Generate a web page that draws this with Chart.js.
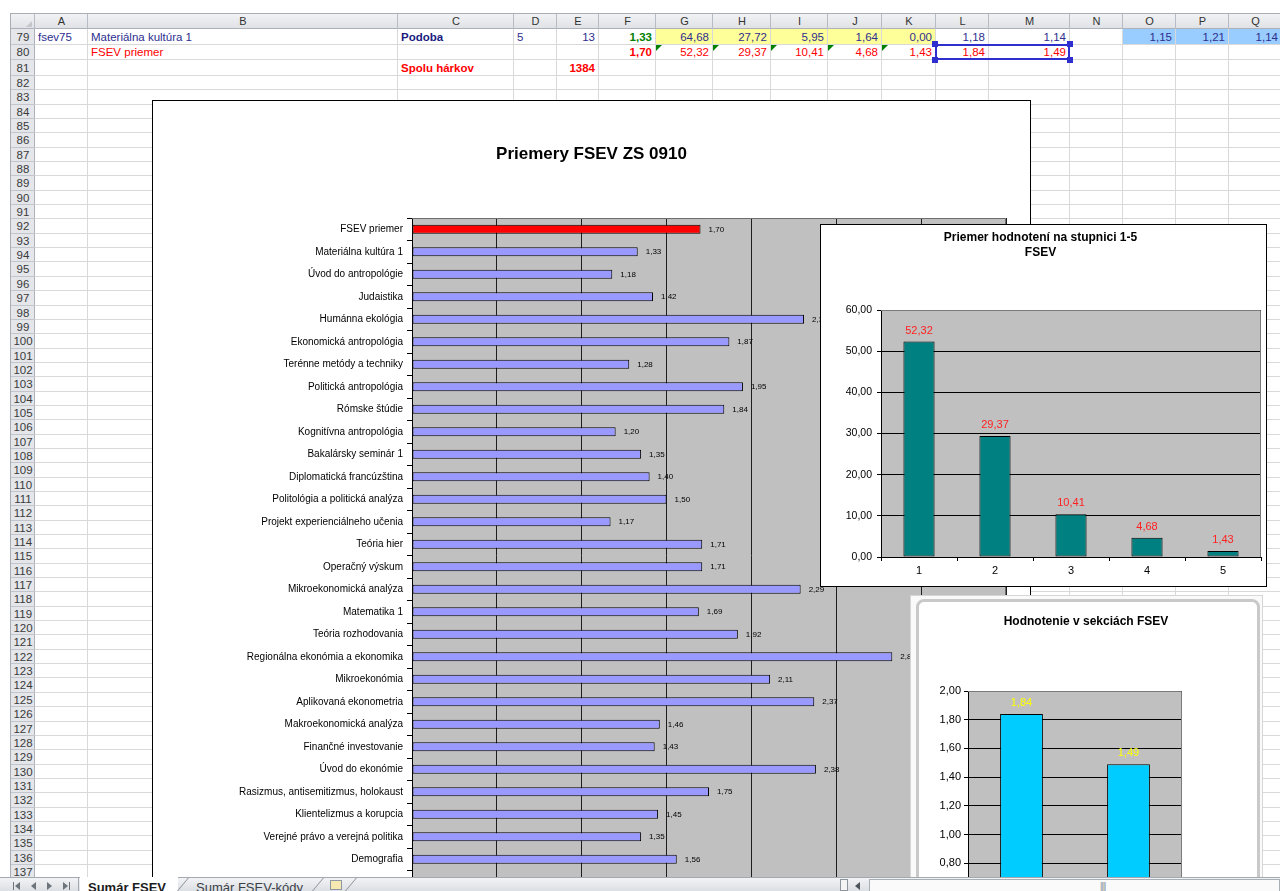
<!DOCTYPE html>
<html lang="sk">
<head>
<meta charset="utf-8">
<title>Priemery FSEV ZS 0910</title>
<script src="https://cdn.jsdelivr.net/npm/chart.js@4.4.0/dist/chart.umd.min.js"></script>
<style>
  html, body { margin: 0; padding: 0; }
  body { width: 1280px; height: 891px; overflow: hidden; position: relative; background: #fff;
         font-family: "Liberation Sans", Arial, sans-serif; }
  #sheet { position: absolute; left: 0; top: 0; width: 1280px; height: 891px; }
  .chartBox { position: absolute; background: #fff; box-sizing: border-box; overflow: hidden; }
  .chartBox canvas { position: absolute; left: 0; top: 0; }
  #mainBox { left: 152px; top: 100px; width: 879px; height: 800px; border: 1px solid #000; z-index: 5; }
  #gradeBox { left: 820px; top: 224px; width: 447px; height: 363px; border: 1px solid #000; z-index: 6; }
  #sectionFrame { position: absolute; left: 910px; top: 595px; width: 353px; height: 320px; box-sizing: border-box;
                  border: 1px solid #D6D6D6; background: #FAFAFA; z-index: 7; }
  #sectionBox { left: 916px; top: 599px; width: 344px; height: 400px; border: 3px solid #C9C9C9;
                border-radius: 8px; z-index: 8; }
  #tabBar { position: absolute; left: 0; top: 877px; width: 1280px; height: 14px; z-index: 20;
            background: linear-gradient(#F2F3F5, #DCDFE3); border-top: 1px solid #A3A9B1; box-sizing: border-box; }
</style>
</head>
<body>
<div id="sheet"></div>

<div id="mainBox" class="chartBox"><canvas id="mainChart" width="877" height="816"></canvas></div>
<div id="gradeBox" class="chartBox"><canvas id="gradeChart" width="445" height="361"></canvas></div>
<div id="sectionFrame"></div>
<div id="sectionBox" class="chartBox"><canvas id="sectionChart" width="338" height="400"></canvas></div>
<div id="tabBar"></div>

<script>
/* ---------- data ---------- */
const courseNames = [
  "FSEV priemer", "Materiálna kultúra 1", "Úvod do antropológie", "Judaistika",
  "Humánna ekológia", "Ekonomická antropológia", "Terénne metódy a techniky",
  "Politická antropológia", "Rómske štúdie", "Kognitívna antropológia",
  "Bakalársky seminár 1", "Diplomatická francúzština", "Politológia a politická analýza",
  "Projekt experienciálneho učenia", "Teória hier", "Operačný výskum",
  "Mikroekonomická analýza", "Matematika 1", "Teória rozhodovania",
  "Regionálna ekonómia a ekonomika", "Mikroekonómia", "Aplikovaná ekonometria",
  "Makroekonomická analýza", "Finančné investovanie", "Úvod do ekonómie",
  "Rasizmus, antisemitizmus, holokaust", "Klientelizmus a korupcia",
  "Verejné právo a verejná politika", "Demografia", "Európske štúdie"
];
const courseAverages = [
  1.70, 1.33, 1.18, 1.42, 2.31, 1.87, 1.28, 1.95, 1.84, 1.20,
  1.35, 1.40, 1.50, 1.17, 1.71, 1.71, 2.29, 1.69, 1.92, 2.83,
  2.11, 2.37, 1.46, 1.43, 2.38, 1.75, 1.45, 1.35, 1.56, 2.95
];

const gradeLabels = ["1", "2", "3", "4", "5"];
const gradeShares = [52.32, 29.37, 10.41, 4.68, 1.43];

const sectionLabels = ["1", "2"];
const sectionAverages = [1.84, 1.49];

/* ---------- hárok (mriežka) ---------- */
const FONT = '"Liberation Sans", Arial, sans-serif';
const sheet = document.getElementById("sheet");
const colNames = ["A","B","C","D","E","F","G","H","I","J","K","L","M","N","O","P","Q"];
const colEdges = [35, 88, 398, 514, 557, 599, 656, 713, 771, 828, 882, 936, 989, 1070, 1123, 1176, 1229, 1282];
const firstRow = 79;
const rowTops = [];
for (let i = 0; i <= 59; i++) {
  rowTops.push(i <= 3 ? Math.round(29 + i * 15.67) : Math.round(76 + (i - 3) * 14.345));
}

function box(x, y, w, h, css) {
  const d = document.createElement("div");
  d.style.cssText = `position:absolute;left:${x}px;top:${y}px;width:${w}px;height:${h}px;${css || ""}`;
  sheet.appendChild(d);
  return d;
}
function colX(name) { return colEdges[colNames.indexOf(name)]; }
function colW(name) { const i = colNames.indexOf(name); return colEdges[i + 1] - colEdges[i]; }
function rowY(r) { return rowTops[r - firstRow]; }
function rowH(r) { return rowTops[r - firstRow + 1] - rowTops[r - firstRow]; }

// čiary mriežky
for (let i = 1; i < rowTops.length; i++) box(35, rowTops[i] - 1, 1245, 1, "background:#D9D9D9");
for (let i = 1; i < colEdges.length; i++) box(colEdges[i] - 1, 29, 1, 848, "background:#D9D9D9");

// hlavička stĺpcov
box(10, 13, 1270, 16, "background:linear-gradient(#F1F2F4,#E0E2E6);border-top:1px solid #A9AEB6;border-bottom:1px solid #ADB2BA;box-sizing:border-box");
box(10, 13, 1, 864, "background:#A9AEB6");
colNames.forEach((c, i) => {
  box(colEdges[i] - 1, 14, 1, 15, "background:#B7BCC4");
  const t = box(colEdges[i], 13, colEdges[i + 1] - colEdges[i], 16,
    `font:11px ${FONT};color:#333;text-align:center;line-height:16px`);
  t.textContent = c;
});
// hlavička riadkov
box(11, 29, 24, 848, "background:#E4E6EA;border-right:1px solid #ADB2BA;box-sizing:border-box");
for (let i = 0; i < 59; i++) {
  box(11, rowTops[i + 1] - 1, 24, 1, "background:#C2C6CC");
  const t = box(11, rowTops[i], 24, rowTops[i + 1] - rowTops[i],
    `font:11.5px ${FONT};color:#3A3A3A;text-align:center;line-height:${rowTops[i + 1] - rowTops[i]}px`);
  t.textContent = firstRow + i;
}
box(26, 21, 0, 0, "border-left:6px solid transparent;border-bottom:6px solid #C3C6CB");

// obsah buniek
const NAVY = "#2E2E8F";
const cells = [
  { c: "A", r: 79, t: "fsev75", color: NAVY },
  { c: "B", r: 79, t: "Materiálna kultúra 1", color: NAVY },
  { c: "C", r: 79, t: "Podoba", color: "#1A1A80", bold: true },
  { c: "D", r: 79, t: "5", color: NAVY },
  { c: "E", r: 79, t: "13", color: NAVY, right: true },
  { c: "F", r: 79, t: "1,33", color: "#008000", bold: true, right: true },
  { c: "G", r: 79, t: "64,68", color: NAVY, right: true, bg: "#FFFF99" },
  { c: "H", r: 79, t: "27,72", color: NAVY, right: true, bg: "#FFFF99" },
  { c: "I", r: 79, t: "5,95", color: NAVY, right: true, bg: "#FFFF99" },
  { c: "J", r: 79, t: "1,64", color: NAVY, right: true, bg: "#FFFF99" },
  { c: "K", r: 79, t: "0,00", color: NAVY, right: true, bg: "#FFFF99" },
  { c: "L", r: 79, t: "1,18", color: NAVY, right: true },
  { c: "M", r: 79, t: "1,14", color: NAVY, right: true },
  { c: "O", r: 79, t: "1,15", color: NAVY, right: true, bg: "#99CCFF" },
  { c: "P", r: 79, t: "1,21", color: NAVY, right: true, bg: "#99CCFF" },
  { c: "Q", r: 79, t: "1,14", color: NAVY, right: true, bg: "#99CCFF" },
  { c: "B", r: 80, t: "FSEV priemer", color: "#FF0000" },
  { c: "F", r: 80, t: "1,70", color: "#FF0000", bold: true, right: true },
  { c: "G", r: 80, t: "52,32", color: "#FF0000", right: true, flag: true },
  { c: "H", r: 80, t: "29,37", color: "#FF0000", right: true, flag: true },
  { c: "I", r: 80, t: "10,41", color: "#FF0000", right: true, flag: true },
  { c: "J", r: 80, t: "4,68", color: "#FF0000", right: true, flag: true },
  { c: "K", r: 80, t: "1,43", color: "#FF0000", right: true, flag: true },
  { c: "L", r: 80, t: "1,84", color: "#FF0000", right: true },
  { c: "M", r: 80, t: "1,49", color: "#FF0000", right: true },
  { c: "C", r: 81, t: "Spolu hárkov", color: "#FF0000", bold: true },
  { c: "E", r: 81, t: "1384", color: "#FF0000", bold: true, right: true }
];
cells.forEach(cell => {
  const x = colX(cell.c), y = rowY(cell.r), w = colW(cell.c), h = rowH(cell.r);
  if (cell.bg) box(x, y, w - 1, h - 1, `background:${cell.bg}`);
  const t = box(x + 3, y, w - 7, h,
    `font:${cell.bold ? "bold " : ""}11.5px ${FONT};color:${cell.color};line-height:${h}px;white-space:nowrap;` +
    `text-align:${cell.right ? "right" : "left"}`);
  t.textContent = cell.t;
  if (cell.flag) box(x, y, 0, 0, "border-top:6px solid #008000;border-right:6px solid transparent");
});
// výber L80:M80
{
  const x = colX("L") - 1, y = rowY(80) - 1, w = colEdges[13] - colX("L") + 1, h = rowH(80) + 1;
  box(x, y, w, h, "border:2px solid #2F2FD0;box-sizing:border-box");
  [[x, y], [x + w, y], [x, y + h], [x + w, y + h]].forEach(([px, py]) =>
    box(px - 3, py - 3, 6, 6, "background:#2F2FD0"));
}

/* ---------- spodná lišta s hárkami ---------- */
const tabBar = document.getElementById("tabBar");
function barEl(x, y, w, h, css, txt) {
  const d = document.createElement("div");
  d.style.cssText = `position:absolute;left:${x}px;top:${y}px;width:${w}px;height:${h}px;${css || ""}`;
  if (txt) d.textContent = txt;
  tabBar.appendChild(d);
  return d;
}
barEl(13, 4, 1, 8, "background:#6E747C");
barEl(15, 4, 0, 0, "border-top:4px solid transparent;border-bottom:4px solid transparent;border-right:5px solid #6E747C");
barEl(31, 4, 0, 0, "border-top:4px solid transparent;border-bottom:4px solid transparent;border-right:5px solid #6E747C");
barEl(47, 4, 0, 0, "border-top:4px solid transparent;border-bottom:4px solid transparent;border-left:5px solid #6E747C");
barEl(63, 4, 0, 0, "border-top:4px solid transparent;border-bottom:4px solid transparent;border-left:5px solid #6E747C");
barEl(69, 4, 1, 8, "background:#6E747C");
barEl(78, 0, 1, 14, "background:#A3A9B1");
barEl(80, -1, 98, 15, "background:#fff", "");
barEl(88, 2, 90, 14, `font:bold 13px ${FONT};color:#1B1B1B;white-space:nowrap`, "Sumár FSEV");
barEl(182, 0, 1, 14, "background:#8A9099;transform:skewX(-40deg)");
barEl(196, 2, 120, 14, `font:13px ${FONT};color:#3C4148;white-space:nowrap`, "Sumár FSEV-kódy");
barEl(317, 0, 1, 14, "background:#8A9099;transform:skewX(-40deg)");
barEl(330, 2, 12, 10, "border:1px solid #9099A3;background:#F6E8B0;box-sizing:border-box");
barEl(350, 0, 1, 14, "background:#8A9099;transform:skewX(-40deg)");
barEl(840, 1, 8, 12, "border:1px solid #8F959D;background:#F4F4F4;box-sizing:border-box");
barEl(855, 4, 0, 0, "border-top:4px solid transparent;border-bottom:4px solid transparent;border-right:5px solid #4E545C");
barEl(869, 1, 411, 13, "background:#FAFAFB;border:1px solid #A8AEB6;box-sizing:border-box");
barEl(1100, 3, 12, 10, `font:9px ${FONT};color:#8A9099;letter-spacing:-1px`, "||||");

/* ---------- pluginy ---------- */
function fmt(v) { return v.toFixed(2).replace(".", ","); }

// nadpis vycentrovaný na celú plochu grafu (ako v Exceli)
const boxTitle = {
  id: "boxTitle",
  afterDraw(chart, args, opts) {
    const ctx = chart.ctx;
    ctx.save();
    ctx.font = opts.font;
    ctx.fillStyle = "#000";
    ctx.textAlign = "center";
    ctx.textBaseline = "middle";
    opts.lines.forEach((t, i) => ctx.fillText(t, chart.width / 2 + (opts.dx || 0), opts.y + i * opts.lineHeight));
    ctx.restore();
  }
};

const plotFrame = {
  id: "plotFrame",
  beforeDraw(chart, args, opts) {
    const { ctx, chartArea: a } = chart;
    ctx.save();
    ctx.fillStyle = opts.fill;
    ctx.fillRect(a.left, a.top, a.right - a.left, a.bottom - a.top);
    ctx.restore();
  },
  beforeDatasetsDraw(chart, args, opts) {
    const { ctx, chartArea: a } = chart;
    ctx.save();
    ctx.strokeStyle = opts.edge;
    ctx.lineWidth = 1;
    ctx.beginPath();
    ctx.moveTo(a.left, a.top + 0.5);
    ctx.lineTo(a.right - 0.5, a.top + 0.5);
    ctx.lineTo(a.right - 0.5, a.bottom);
    ctx.stroke();
    ctx.restore();
  }
};

const valueLabels = {
  id: "valueLabels",
  afterDatasetsDraw(chart, args, opts) {
    const ctx = chart.ctx;
    const horizontal = chart.options.indexAxis === "y";
    ctx.save();
    ctx.font = opts.font;
    ctx.fillStyle = opts.color;
    ctx.textBaseline = "middle";
    chart.data.datasets.forEach((ds, di) => {
      chart.getDatasetMeta(di).data.forEach((bar, i) => {
        const txt = fmt(ds.data[i]);
        if (horizontal) {
          ctx.textAlign = "left";
          ctx.fillText(txt, bar.x + opts.gap, bar.y + 0.5);
        } else {
          ctx.textAlign = "center";
          ctx.fillText(txt, bar.x, bar.y - opts.gap);
        }
      });
    });
    ctx.restore();
  }
};

Chart.defaults.font.family = FONT;
Chart.defaults.color = "#000";

/* ---------- hlavný graf ---------- */
new Chart(document.getElementById("mainChart"), {
  type: "bar",
  data: {
    labels: courseNames,
    datasets: [{
      data: courseAverages,
      backgroundColor: courseNames.map((n, i) => i === 0 ? "#FF0000" : "#9999FF"),
      borderColor: "#000",
      borderWidth: 1,
      borderSkipped: false,
      barPercentage: 0.4,
      categoryPercentage: 1
    }]
  },
  plugins: [plotFrame, valueLabels, boxTitle],
  options: {
    indexAxis: "y",
    responsive: false,
    animation: false,
    devicePixelRatio: 1,
    layout: { padding: { left: 0, right: 24, top: 117, bottom: 0 } },
    plugins: {
      legend: { display: false },
      tooltip: { enabled: false },
      boxTitle: { lines: ["Priemery FSEV ZS 0910"], font: `bold 17px ${FONT}`, y: 53, lineHeight: 20 },
      plotFrame: { fill: "#C0C0C0", edge: "#6E6E6E" },
      valueLabels: { font: `8px ${FONT}`, color: "#000", gap: 8 }
    },
    scales: {
      x: {
        min: 0, max: 3.5,
        ticks: { stepSize: 0.5, callback: v => fmt(v), font: { size: 10 }, color: "#000" },
        grid: { color: "#1E1E1E", lineWidth: 1, tickLength: 4 },
        border: { color: "#000" },
        afterFit(s) { s.height = 24; }
      },
      y: {
        ticks: { autoSkip: false, font: { size: 10 }, color: "#000", padding: 4 },
        grid: { drawOnChartArea: false, tickLength: 5, color: "#000" },
        border: { color: "#000" },
        afterFit(s) { s.width = 259; }
      }
    }
  }
});

/* ---------- priemer hodnotení 1-5 ---------- */
new Chart(document.getElementById("gradeChart"), {
  type: "bar",
  data: {
    labels: gradeLabels,
    datasets: [{
      data: gradeShares,
      backgroundColor: "#008080",
      borderColor: "#000",
      borderWidth: 1,
      borderSkipped: false,
      barPercentage: 0.41,
      categoryPercentage: 1
    }]
  },
  plugins: [plotFrame, valueLabels, boxTitle],
  options: {
    responsive: false,
    animation: false,
    devicePixelRatio: 1,
    layout: { padding: { left: 0, right: 5, top: 85, bottom: 0 } },
    plugins: {
      legend: { display: false },
      tooltip: { enabled: false },
      boxTitle: { lines: ["Priemer hodnotení na stupnici 1-5", "FSEV"], font: `bold 12px ${FONT}`, y: 13, lineHeight: 15, dx: -3 },
      plotFrame: { fill: "#C0C0C0", edge: "#7A7A7A" },
      valueLabels: { font: `11px ${FONT}`, color: "#FF2020", gap: 11 }
    },
    scales: {
      x: {
        ticks: { font: { size: 11 }, color: "#000", padding: 3 },
        grid: { drawOnChartArea: false, tickLength: 4, color: "#000" },
        border: { color: "#000" },
        afterFit(s) { s.height = 29; }
      },
      y: {
        min: 0, max: 60,
        ticks: { stepSize: 10, callback: v => fmt(v), font: { size: 10.5 }, color: "#000", padding: 5 },
        grid: { color: "#000", tickLength: 4 },
        border: { color: "#000" },
        afterFit(s) { s.width = 60; }
      }
    }
  }
});

/* ---------- hodnotenie v sekciách ---------- */
new Chart(document.getElementById("sectionChart"), {
  type: "bar",
  data: {
    labels: sectionLabels,
    datasets: [{
      data: sectionAverages,
      backgroundColor: "#00CCFF",
      borderColor: "#000",
      borderWidth: 1,
      borderSkipped: false,
      barPercentage: 0.4,
      categoryPercentage: 1
    }]
  },
  plugins: [plotFrame, valueLabels, boxTitle],
  options: {
    responsive: false,
    animation: false,
    devicePixelRatio: 1,
    layout: { padding: { left: 0, right: 75, top: 89, bottom: 0 } },
    plugins: {
      legend: { display: false },
      tooltip: { enabled: false },
      boxTitle: { lines: ["Hodnotenie v sekciách FSEV"], font: `bold 12px ${FONT}`, y: 20, lineHeight: 15, dx: -2 },
      plotFrame: { fill: "#C0C0C0", edge: "#7A7A7A" },
      valueLabels: { font: `11px ${FONT}`, color: "#FFFF00", gap: 11 }
    },
    scales: {
      x: {
        ticks: { font: { size: 11 }, color: "#000", padding: 3 },
        grid: { drawOnChartArea: false, tickLength: 4, color: "#000" },
        border: { color: "#000" },
        afterFit(s) { s.height = 24; }
      },
      y: {
        min: 0, max: 2,
        ticks: { stepSize: 0.2, callback: v => fmt(v), font: { size: 11 }, color: "#000", padding: 3 },
        grid: { color: "#000", tickLength: 4 },
        border: { color: "#000" },
        afterFit(s) { s.width = 49; }
      }
    }
  }
});
</script>
</body>
</html>
